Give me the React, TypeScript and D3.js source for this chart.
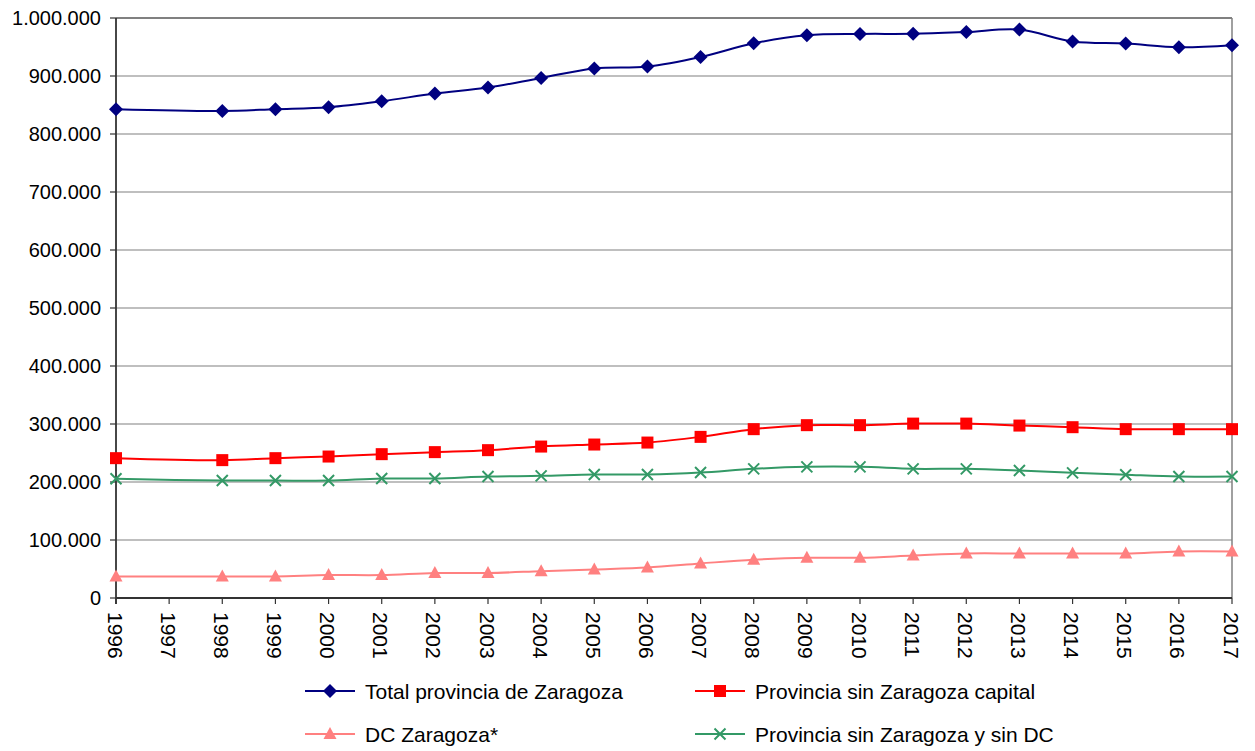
import * as d3 from "d3";

const years = [
  "1996", "1997", "1998", "1999", "2000", "2001", "2002", "2003", "2004", "2005", "2006",
  "2007", "2008", "2009", "2010", "2011", "2012", "2013", "2014", "2015", "2016", "2017",
];

// 1997 has no data: the line simply joins 1996 to 1998
const totalProvincia = [
  842800, null, 839800, 842800, 846200, 856500, 869800, 880100, 896700, 912900, 916300,
  932800, 956400, 970200, 972500, 972800, 975900, 980000, 959400, 955900, 949500, 953000,
];
const provinciaSinCapital = [
  241100, null, 237700, 241100, 243900, 248000, 251500, 254900, 261100, 264600, 268000,
  277800, 291100, 298000, 298000, 300700, 300700, 297300, 294500, 291100, 291100, 291100,
];
const dcZaragoza = [
  37200, null, 37200, 37200, 39600, 39600, 43100, 43100, 46200, 49300, 52700,
  59600, 66000, 69400, 69400, 73200, 76800, 76800, 76800, 76800, 80300, 80300,
];
const provinciaSinCapitalNiDC = [
  205500, null, 202500, 202500, 202500, 206000, 206000, 209400, 210600, 212900, 212900,
  216300, 222700, 226100, 226100, 222700, 222700, 219800, 215800, 212400, 209400, 209400,
];

const yTicks = [0, 100000, 200000, 300000, 400000, 500000, 600000, 700000, 800000, 900000, 1000000];

type Marker = "diamond" | "square" | "triangle" | "cross";
type Series = { name: string; values: (number | null)[]; color: string; marker: Marker };

const series: Series[] = [
  { name: "Total provincia de Zaragoza", values: totalProvincia, color: "#000080", marker: "diamond" },
  { name: "Provincia sin Zaragoza capital", values: provinciaSinCapital, color: "#FF0000", marker: "square" },
  { name: "DC Zaragoza*", values: dcZaragoza, color: "#FF8080", marker: "triangle" },
  { name: "Provincia sin Zaragoza y sin DC", values: provinciaSinCapitalNiDC, color: "#339966", marker: "cross" },
];

const W = 1255;
const H = 751;
const left = 116;
const right = 1232;
const top = 18;
const bottom = 598;
const FONT = "'Liberation Sans', Arial, sans-serif";

const fmt = (v: number) => (v === 0 ? "0" : d3.format(",")(v).replace(/,/g, "."));

function MarkerShape({ type, x, y, color }: { type: Marker; x: number; y: number; color: string }) {
  if (type === "diamond") {
    const r = 7;
    return <path d={`M${x},${y - r}L${x + r},${y}L${x},${y + r}L${x - r},${y}Z`} fill={color} />;
  }
  if (type === "square") {
    return <rect x={x - 6} y={y - 6} width={12} height={12} fill={color} />;
  }
  if (type === "triangle") {
    return <path d={`M${x},${y - 7}L${x + 6.5},${y + 5}L${x - 6.5},${y + 5}Z`} fill={color} />;
  }
  const r = 5.5;
  return (
    <path
      d={`M${x - r},${y - r}L${x + r},${y + r}M${x + r},${y - r}L${x - r},${y + r}`}
      stroke={color}
      strokeWidth={2}
      fill="none"
    />
  );
}

export default function App() {
  const x = d3.scalePoint<string>().domain(years).range([left, right]);
  const y = d3.scaleLinear().domain([0, 1000000]).range([bottom, top]);

  const line = d3
    .line<[string, number]>()
    .x((d) => x(d[0])!)
    .y((d) => y(d[1]))
    .curve(d3.curveCatmullRom.alpha(0.5));

  const legendPos = [
    { lx: 305, ly: 691 },
    { lx: 695, ly: 691 },
    { lx: 305, ly: 734 },
    { lx: 695, ly: 734 },
  ];

  return (
    <div style={{ position: "absolute", left: 0, top: 0 }}>
      <svg width={W} height={H} style={{ display: "block", background: "#fff" }} fontFamily={FONT}>
        {/* gridlines */}
        {yTicks.map((t) => (
          <line key={t} x1={left} x2={right} y1={y(t)} y2={y(t)} stroke="#808080" strokeWidth={1.2} />
        ))}
        <line x1={right} x2={right} y1={top} y2={bottom} stroke="#808080" strokeWidth={1.5} />
        <line x1={left} x2={right} y1={top} y2={top} stroke="#808080" strokeWidth={1.8} />

        {/* y axis */}
        <line x1={left} x2={left} y1={top} y2={bottom + 6} stroke="#333" strokeWidth={1.8} />
        {yTicks.map((t) => (
          <g key={t}>
            <line x1={left - 6} x2={left} y1={y(t)} y2={y(t)} stroke="#333" strokeWidth={1.2} />
            <text x={101} y={y(t)} textAnchor="end" dominantBaseline="central" fontSize={20} fill="#000">
              {fmt(t)}
            </text>
          </g>
        ))}

        {/* x axis */}
        <line x1={left} x2={right} y1={bottom} y2={bottom} stroke="#333" strokeWidth={1.8} />
        {years.map((yr) => (
          <g key={yr}>
            <line x1={x(yr)} x2={x(yr)} y1={bottom} y2={bottom + 6} stroke="#333" strokeWidth={1.2} />
            <text
              transform={`translate(${x(yr)! - 1},${612}) rotate(90)`}
              textAnchor="start"
              dominantBaseline="central"
              fontSize={21}
              fill="#000"
            >
              {yr}
            </text>
          </g>
        ))}

        {/* series */}
        {series.map((s) => {
          const pts = years
            .map((yr, i) => [yr, s.values[i]] as [string, number | null])
            .filter((d) => d[1] !== null) as [string, number][];
          return (
            <g key={s.name}>
              <path d={line(pts) ?? ""} fill="none" stroke={s.color} strokeWidth={2} />
              {pts.map((d) => (
                <MarkerShape key={d[0]} type={s.marker} x={x(d[0])!} y={y(d[1])} color={s.color} />
              ))}
            </g>
          );
        })}

        {/* legend */}
        {series.map((s, i) => {
          const { lx, ly } = legendPos[i];
          return (
            <g key={s.name}>
              <line x1={lx} x2={lx + 50} y1={ly} y2={ly} stroke={s.color} strokeWidth={2} />
              <MarkerShape type={s.marker} x={lx + 25} y={ly} color={s.color} />
              <text x={lx + 60} y={ly} dominantBaseline="central" fontSize={21} fill="#000">
                {s.name}
              </text>
            </g>
          );
        })}
      </svg>
    </div>
  );
}
